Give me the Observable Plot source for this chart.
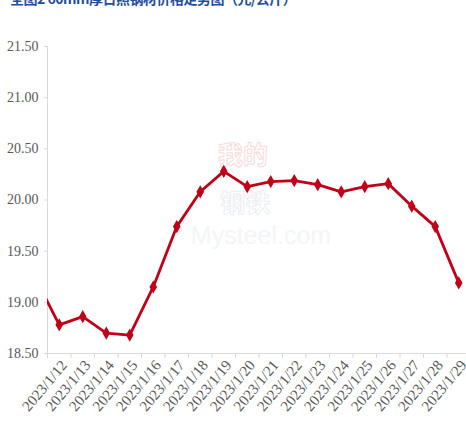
<!DOCTYPE html>
<html>
<head>
<meta charset="utf-8">
<script src="https://cdn.jsdelivr.net/npm/d3@7"></script>
<script src="https://cdn.jsdelivr.net/npm/@observablehq/plot@0.6"></script>
<style>
  html, body { margin: 0; padding: 0; background: #fff; overflow: hidden; }
  #wrap { position: relative; width: 466px; height: 432px; overflow: hidden; }
  #title { position: absolute; left: 10px; top: -12px; font-family: "Noto Sans CJK SC", sans-serif; font-weight: bold; font-size: 14px; color: #1f4e9e; white-space: nowrap; z-index: 2; letter-spacing: -0.5px; }
</style>
</head>
<body>
<div id="wrap">
  <div id="title">全图2 60mm厚日照钢材价格走势图（元/公斤）</div>
  <div id="chart"></div>
</div>
<script>
// Dates (category labels); first entry lies just off the left edge
const dates = ["2023/1/11","2023/1/12","2023/1/13","2023/1/14","2023/1/15","2023/1/16","2023/1/17","2023/1/18","2023/1/19","2023/1/20","2023/1/21","2023/1/22","2023/1/23","2023/1/24","2023/1/25","2023/1/26","2023/1/27","2023/1/28","2023/1/29"];
const prices = [19.23, 18.78, 18.86, 18.70, 18.68, 19.15, 19.74, 20.08, 20.28, 20.13, 20.18, 20.19, 20.15, 20.08, 20.13, 20.16, 19.94, 19.74, 19.19];
const yTicks = [18.5, 19.0, 19.5, 20.0, 20.5, 21.0, 21.5];

const data = dates.map((d, i) => ({i, date: d, price: prices[i]}));
const shown = data.filter(d => d.i >= 1);
const labelIdx = shown.map(d => d.i);
const edgeIdx = d3.range(0.5, 18.5, 1);

const font = "'Liberation Serif', 'DejaVu Serif', serif";
const cjk = "'Noto Sans CJK SC', sans-serif";
const chart = Plot.plot({
  width: 466,
  height: 432,
  marginLeft: 47,
  marginRight: 0,
  marginTop: 46,
  marginBottom: 79,
  style: {fontFamily: font, fontSize: "13px", color: "#595959", background: "#fff"},
  x: {type: "linear", domain: [0.5, 0.5 + 419 / 23.5]},
  y: {domain: [18.5, 21.5]},
  marks: [
    Plot.text(["我的"], {frameAnchor: "middle", dx: -14, dy: -44, fontSize: 25, fill: "none", stroke: "#f6dcdc", strokeWidth: 1, fontFamily: cjk, fontWeight: "bold"}),
    Plot.text(["钢铁"], {frameAnchor: "middle", dx: -12, dy: 4, fontSize: 25, fill: "none", stroke: "#eceef3", strokeWidth: 1, fontFamily: cjk, fontWeight: "bold"}),
    Plot.text(["Mysteel.com"], {frameAnchor: "middle", dx: 4, dy: 36, fontSize: 25, fill: "#f4f5f8", fontFamily: "'Liberation Sans Narrow', 'Liberation Sans', sans-serif"}),
    Plot.ruleX([0.5], {stroke: "#d9d9d9", strokeWidth: 1}),
    Plot.ruleY([18.5], {stroke: "#d9d9d9", strokeWidth: 1}),
    Plot.axisY({ticks: yTicks, tickFormat: d => d.toFixed(2), tickSize: 3, tickPadding: 6, stroke: "#d9d9d9", fill: "#595959", label: null, fontSize: 14}),
    Plot.axisX({ticks: edgeIdx, tickFormat: () => "", tickSize: 5, stroke: "#d9d9d9", label: null}),
    Plot.axisX({ticks: labelIdx, tickFormat: i => dates[i], tickSize: 0, tickPadding: 4, tickRotate: -50, textAnchor: "end", dx: 5, dy: 5, fill: "#595959", label: null, fontSize: 15}),
    Plot.line(data, {x: "i", y: "price", stroke: "#c00018", strokeWidth: 2.8, clip: true}),
    Plot.dot(shown, {x: "i", y: "price", symbol: "diamond", r: 4, fill: "#c00018", stroke: "none"})
  ]
});
document.getElementById("chart").appendChild(chart);
</script>
</body>
</html>
